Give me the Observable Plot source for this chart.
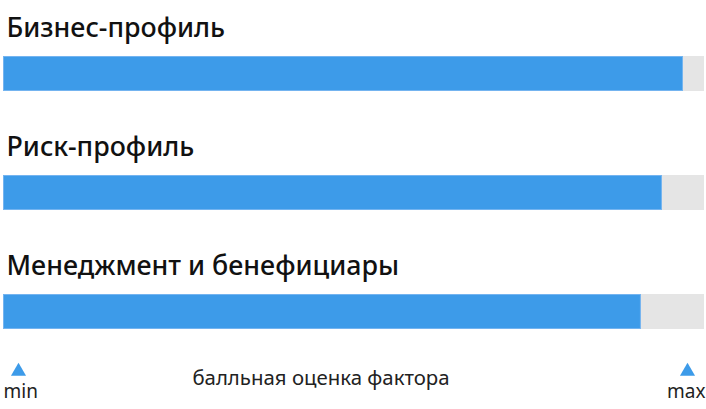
<!DOCTYPE html>
<html>
<head>
<meta charset="utf-8">
<script src="https://cdn.jsdelivr.net/npm/d3@7"></script>
<script src="https://cdn.jsdelivr.net/npm/@observablehq/plot@0.6"></script>
<style>
  html, body { margin: 0; padding: 0; background: #fff; }
  #chart svg { display: block; }
</style>
</head>
<body>
<div id="chart"></div>
<script>
const categories = ["Бизнес-профиль", "Риск-профиль", "Менеджмент и бенефициары"];
const scores = [9.7, 9.4, 9.1];
const scoreMin = 0;
const scoreMax = 10;
const scaleLabels = ["min", "max"];
const axisCaption = "балльная оценка фактора";

const rows = categories.map((name, i) => ({name, score: scores[i]}));

const blue = "#3d9be9";
const font = "'Noto Sans', sans-serif";

const chart = Plot.plot({
  width: 706,
  height: 409,
  marginLeft: 3,
  marginRight: 2,
  marginTop: 0,
  marginBottom: 0,
  style: {fontFamily: font, background: "#fff"},
  x: {domain: [scoreMin, scoreMax], axis: null},
  y: {domain: categories, range: [55, 330], paddingInner: 0.7083, paddingOuter: 0, axis: null},
  marks: [
    Plot.barX(rows, {x1: scoreMin, x2: scoreMax, y: "name", fill: "#e5e5e5"}),
    Plot.barX(rows, {x1: scoreMin, x2: "score", y: "name", fill: blue, stroke: "#74b4f0", strokeWidth: 1, inset: 0.5}),
    Plot.text(rows, {x: scoreMin, y: "name", text: "name", textAnchor: "start", lineAnchor: "bottom",
      dx: 3, dy: -37, fontSize: 26.8, fontWeight: 500, fill: "#111"}),
    Plot.dot([scoreMin], {x: d => d, frameAnchor: "bottom", symbol: "triangle", r: 5.6, fill: blue, dx: 15, dy: -38}),
    Plot.dot([scoreMax], {x: d => d, frameAnchor: "bottom", symbol: "triangle", r: 5.6, fill: blue, dx: -17, dy: -38}),
    Plot.text([scaleLabels[0]], {x: () => scoreMin, text: d => d, frameAnchor: "bottom", textAnchor: "start",
      lineAnchor: "bottom", dy: -12, fontSize: 19, fill: "#222"}),
    Plot.text([scaleLabels[1]], {x: () => scoreMax, text: d => d, frameAnchor: "bottom", textAnchor: "end",
      lineAnchor: "bottom", dx: 1, dy: -12, fontSize: 19, fill: "#222"}),
    Plot.text([axisCaption], {text: d => d, frameAnchor: "bottom", textAnchor: "middle",
      lineAnchor: "bottom", dx: -33, dy: -25, fontSize: 20.4, fill: "#222"})
  ]
});
document.getElementById("chart").appendChild(chart);
</script>
</body>
</html>
